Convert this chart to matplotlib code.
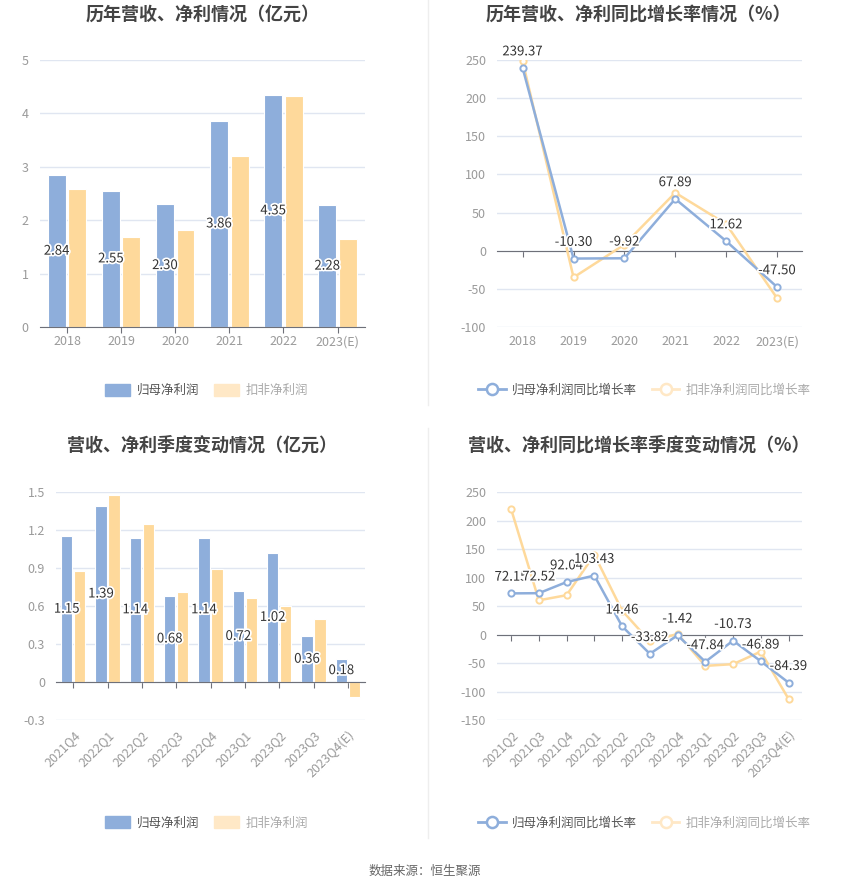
import matplotlib.pyplot as plt
from matplotlib.lines import Line2D
from matplotlib.patches import FancyBboxPatch
import matplotlib.patheffects as pe
import numpy as np

plt.rcParams['font.family'] = ['Noto Sans CJK SC', 'DejaVu Sans']
plt.rcParams['axes.unicode_minus'] = False

# ---- data ----
years = ['2018', '2019', '2020', '2021', '2022', '2023(E)']
year_np = [2.84, 2.55, 2.30, 3.86, 4.35, 2.28]
year_kf = [2.58, 1.68, 1.82, 3.21, 4.33, 1.65]

year_np_g = [239.37, -10.30, -9.92, 67.89, 12.62, -47.50]
year_kf_g = [248, -35, 8, 76, 35, -62]

quarters = ['2021Q4', '2022Q1', '2022Q2', '2022Q3', '2022Q4',
            '2023Q1', '2023Q2', '2023Q3', '2023Q4(E)']
q_np = [1.15, 1.39, 1.14, 0.68, 1.14, 0.72, 1.02, 0.36, 0.18]
q_kf = [0.88, 1.48, 1.25, 0.71, 0.89, 0.66, 0.60, 0.50, -0.12]

q_growth = ['2021Q2', '2021Q3', '2021Q4', '2022Q1', '2022Q2', '2022Q3',
            '2022Q4', '2023Q1', '2023Q2', '2023Q3', '2023Q4(E)']
q_np_g = [72.15, 72.52, 92.04, 103.43, 14.46, -33.82, -1.42, -47.84, -10.73, -46.89, -84.39]
q_kf_g = [220, 60, 69, 140, 42, -12, 1, -55, -52, -30, -113]

BLUE = '#8eaedb'
ORANGE = '#fed99b'
ORANGE_LEG = '#ffe8c6'
GRID = '#e0e6f1'
AXIS = '#6e7079'
TICK = '#9a9a9a'
TXT = '#333333'

fig = plt.figure(figsize=(8.5, 8.91), dpi=100)

stroke = [pe.withStroke(linewidth=2.5, foreground='white')]


def style_axes(ax, ylim, yticks, ytick_labels, n):
    ax.set_xlim(-0.5, n - 0.5)
    ax.set_ylim(*ylim)
    ax.set_yticks(yticks)
    ax.set_yticklabels(ytick_labels)
    ax.grid(axis='y', color=GRID, linewidth=1)
    ax.set_axisbelow(True)
    for s in ['top', 'right', 'left']:
        ax.spines[s].set_visible(False)
    ax.spines['bottom'].set_position(('data', 0))
    ax.spines['bottom'].set_color(AXIS)
    ax.tick_params(axis='y', length=0, colors=TICK, labelsize=9, pad=8)
    ax.tick_params(axis='x', length=4, color=AXIS, labelbottom=False)
    ax.set_xticks(range(n))


def bottom_labels(ax, labels, rotate):
    sec = ax.secondary_xaxis('bottom')
    sec.spines['bottom'].set_visible(False)
    sec.set_xticks(range(len(labels)))
    if rotate:
        sec.set_xticklabels(labels, rotation=45, ha='right', rotation_mode='anchor')
    else:
        sec.set_xticklabels(labels)
    sec.tick_params(length=0, colors=TICK, labelsize=9, pad=6)


def bar_panel(rect, cats, np_vals, kf_vals, ylim, yticks, ylabels, rotate, title, tx, ty):
    ax = fig.add_axes(rect)
    x = np.arange(len(cats))
    w = 0.33
    ax.bar(x - 0.19, np_vals, w, color=BLUE, edgecolor='white', linewidth=0.8, zorder=2)
    ax.bar(x + 0.19, kf_vals, w, color=ORANGE, edgecolor='white', linewidth=0.8, zorder=2)
    for xi, v in zip(x, np_vals):
        ax.text(xi - 0.19, v / 2, f'{v:.2f}', ha='center', va='center', fontsize=9.5,
                color=TXT, path_effects=stroke, zorder=4)
    style_axes(ax, ylim, yticks, ylabels, len(cats))
    bottom_labels(ax, cats, rotate)
    fig.text(tx, ty, title, ha='center', va='center', fontsize=13,
             fontweight='bold', color='#444444')
    return ax


def line_panel(rect, cats, np_vals, kf_vals, ylim, yticks, ylabels, rotate, title, tx, ty):
    ax = fig.add_axes(rect)
    x = np.arange(len(cats))
    ax.plot(x, kf_vals, color=ORANGE, linewidth=1.8, marker='o', markersize=4.5,
            markerfacecolor='white', markeredgewidth=1.4, zorder=3)
    ax.plot(x, np_vals, color=BLUE, linewidth=1.8, marker='o', markersize=4.5,
            markerfacecolor='white', markeredgewidth=1.4, zorder=4)
    for xi, v in zip(x, np_vals):
        ax.annotate(f'{v:.2f}', (xi, v), xytext=(0, 7), textcoords='offset points',
                    ha='center', va='bottom', fontsize=9.5, color=TXT,
                    path_effects=stroke, zorder=5)
    style_axes(ax, ylim, yticks, ylabels, len(cats))
    bottom_labels(ax, cats, rotate)
    fig.text(tx, ty, title, ha='center', va='center', fontsize=13,
             fontweight='bold', color='#444444')
    return ax


def bar_legend(cx, cy):
    h1 = FancyBboxPatch((0, 0), 1, 1, boxstyle='round,pad=0.1', color=BLUE)
    h2 = FancyBboxPatch((0, 0), 1, 1, boxstyle='round,pad=0.1', color=ORANGE_LEG)
    leg = fig.legend([h1, h2], ['归母净利润', '扣非净利润'], loc='center',
                     bbox_to_anchor=(cx, cy), ncol=2, frameon=False, fontsize=9,
                     handlelength=2.0, handleheight=1.1, columnspacing=1.2, handletextpad=0.5)
    leg.get_texts()[0].set_color('#555555')
    leg.get_texts()[1].set_color('#aaaaaa')


def line_legend(cx, cy):
    h1 = Line2D([], [], color=BLUE, linewidth=2, marker='o', markersize=8,
                markerfacecolor='white', markeredgewidth=1.8)
    h2 = Line2D([], [], color=ORANGE_LEG, linewidth=2, marker='o', markersize=8,
                markerfacecolor='white', markeredgewidth=1.8)
    leg = fig.legend([h1, h2], ['归母净利润同比增长率', '扣非净利润同比增长率'], loc='center',
                     bbox_to_anchor=(cx, cy), ncol=2, frameon=False, fontsize=9,
                     handlelength=2.2, columnspacing=1.2, handletextpad=0.5)
    leg.get_texts()[0].set_color('#555555')
    leg.get_texts()[1].set_color('#aaaaaa')


# top-left
bar_panel([0.047, 0.633, 0.382, 0.2997], years, year_np, year_kf,
          (0, 5), [0, 1, 2, 3, 4, 5], ['0', '1', '2', '3', '4', '5'], False,
          '历年营收、净利情况（亿元）', 0.238, 0.984)
bar_legend(0.243, 0.562)

# top-right
line_panel([0.585, 0.633, 0.359, 0.2997], years, year_np_g, year_kf_g,
           (-100, 250), [-100, -50, 0, 50, 100, 150, 200, 250],
           ['-100', '-50', '0', '50', '100', '150', '200', '250'], False,
           '历年营收、净利同比增长率情况（%）', 0.751, 0.984)
line_legend(0.758, 0.562)

# bottom-left
bar_panel([0.066, 0.1919, 0.3635, 0.2559], quarters, q_np, q_kf,
          (-0.3, 1.5), [-0.3, 0, 0.3, 0.6, 0.9, 1.2, 1.5],
          ['-0.3', '0', '0.3', '0.6', '0.9', '1.2', '1.5'], True,
          '营收、净利季度变动情况（亿元）', 0.238, 0.5)
bar_legend(0.243, 0.0763)

# bottom-right
line_panel([0.585, 0.1919, 0.359, 0.2559], q_growth, q_np_g, q_kf_g,
           (-150, 250), [-150, -100, -50, 0, 50, 100, 150, 200, 250],
           ['-150', '-100', '-50', '0', '50', '100', '150', '200', '250'], True,
           '营收、净利同比增长率季度变动情况（%）', 0.751, 0.5)
line_legend(0.758, 0.0763)

# separators
fig.add_artist(Line2D([0.503, 0.503], [0.545, 1.0], color='#eeeeee', linewidth=1))
fig.add_artist(Line2D([0.503, 0.503], [0.06, 0.52], color='#eeeeee', linewidth=1))

fig.text(0.5, 0.0224, '数据来源：恒生聚源', ha='center', va='center', fontsize=9, color='#666666')

fig.savefig('out.png', dpi=100, facecolor='white')
